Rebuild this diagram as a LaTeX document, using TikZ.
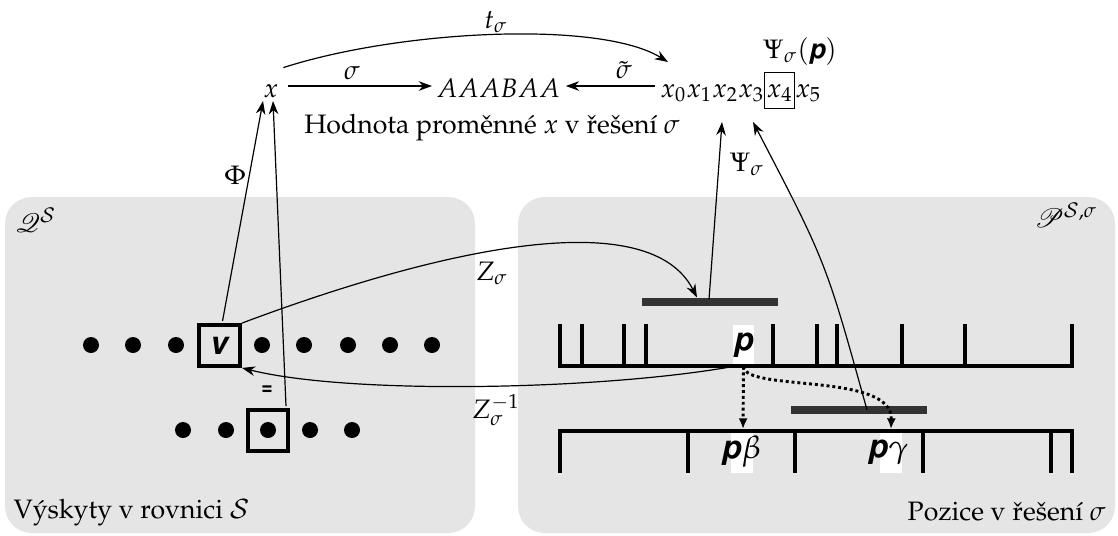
\documentclass[tikz,border=0pt]{standalone}
\usepackage[T1]{fontenc}
\usepackage{mathpazo}
\usepackage{helvet}
\usepackage{mathrsfs}
\usetikzlibrary{arrows.meta,calc}
\newcommand{\bsfi}[1]{\textsf{\bfseries\itshape #1}}
\setlength{\fboxsep}{0.6pt}
\setlength{\fboxrule}{0.4pt}
\begin{document}
\begin{tikzpicture}[x=0.375pt,y=-0.375pt,
  arr/.style={-{Stealth[length=5pt,width=3.6pt]},line width=0.45pt},
  dotarr/.style={-{Latex[length=4pt,width=3.4pt]},line width=1.1pt,dash pattern=on 1.1pt off 1.1pt},
  panel/.style={fill=black!10,rounded corners=10pt},
  dotn/.style={circle,fill=black,inner sep=0pt,minimum size=6pt},
  sqbox/.style={draw,line width=1.5pt,minimum size=15.3pt,inner sep=0pt},
  barnode/.style={fill=black!80,minimum width=51pt,minimum height=3pt,inner sep=0pt},
  ruler/.style={line width=1.5pt,line join=miter},
  lbl/.style={inner sep=0pt}
]
\useasboundingbox (0,0) rectangle (1118,535);
% panels
\fill[panel] (5,197) rectangle (475,533);
\fill[panel] (518,197) rectangle (1115,533);

% top row
\node[lbl,anchor=base] (xv) at (271,97) {$x$};
\node[lbl,anchor=base west] (aaa) at (436,97) {$AAABAA$};
\node[lbl,anchor=base west] (xs) at (660,97) {$x_0x_1x_2x_3$\fbox{\strut$x_4$}$x_5$};
\node[lbl] (psip) at (800,52) {$\Psi_\sigma(\textsf{\bfseries\itshape p})$};
\node[lbl] (tlab) at (496,22) {$t_\sigma$};
\node[lbl] (slab) at (352,73) {$\sigma$};
\node[lbl] (stlab) at (624,70) {$\tilde\sigma$};
\node[lbl,anchor=base] (hod) at (492,133) {Hodnota prom\v{e}nn\'e $x$ v \v{r}e\v{s}en\'i $\sigma$};
\node[lbl] (philab) at (235,175) {$\Phi$};
\node[lbl] (psilab) at (747,164) {$\Psi_\sigma$};
\node[lbl] (zlab) at (492,273) {$Z_\sigma$};
\node[lbl] (zilab) at (496,410) {$Z_\sigma^{-1}$};

% panel labels
\node[lbl] (qlab) at (36,220) {$\mathscr{Q}^{\mathcal{S}}$};
\node[lbl] (plab) at (1066,215) {$\mathscr{P}^{\mathcal{S},\sigma}$};
\node[lbl,anchor=base west] (vysk) at (13,518) {V\'yskyty v rovnici $\mathcal{S}$};
\node[lbl,anchor=base east] (poz) at (1106,520) {Pozice v \v{r}e\v{s}en\'i $\sigma$};

% left panel: occurrences
\foreach \px [count=\k] in {91,133,176,262,304,348,390,432}
  \node[dotn] (r\k) at (\px,345) {};
\node[sqbox] (v) at (219.5,345.5) {\large\bsfi{v}};
\foreach \px [count=\k] in {183,226,268,310,352}
  \node[dotn] (s\k) at (\px,430) {};
\node[sqbox] (eq) at (268,430.5) {};
\node[lbl] (eqsign) at (267,390) {\scriptsize\textsf{\bfseries =}};

% right panel: positions
\node[barnode] (bar1) at (710,302) {};
\node[barnode] (bar2) at (859,410) {};
\node[fill=white,minimum width=7.9pt,minimum height=15.4pt,inner sep=0pt] (p) at (743.5,345.5) {\large\bsfi{p}};
\fill[white] (731,433) rectangle (753,473);
\fill[white] (880,433) rectangle (902,473);
\draw[ruler] (560,324) -- (560,366) -- (1072,366) -- (1072,324);
\foreach \tx in {582,624,646,773,817,837,902,965}
  \draw[ruler] (\tx,324) -- (\tx,366);
\draw[ruler] (560,473) -- (560,431) -- (1072,431) -- (1072,473);
\foreach \tx in {688,795,923,1051}
  \draw[ruler] (\tx,431) -- (\tx,473);
\node[lbl] (pb) at (741,452) {\large\bsfi{p}$\beta$};
\node[lbl] (pg) at (888,452) {\large\bsfi{p}$\gamma$};
\coordinate (r2b) at (743,429);
\coordinate (r2g) at (891,429);

% connectors
\draw[arr] ($(xv.base east)+(9.5,-11)$) -- ($(aaa.base west)+(-4,-11)$);
\draw[arr] ($(xs.base west)+(-5,-11)$) -- ($(aaa.base east)+(5,-11)$);
\draw[arr] ($(xv.north east)+(4.5,-16)$) .. controls (400,30) and (600,20) .. ($(xs.base west)+(8,-35)$);
\draw[arr] ($(v.north)+(3,-2)$) -- ($(xv.base)+(-8,4)$);
\draw[arr] ($(eq.north)+(18,-2)$) -- ($(xv.base)+(2,4)$);
\draw[arr] (v.north east) .. controls (450,245) and (650,205) .. ($(bar1.north)+(-13,0)$);
\draw[arr] ($(bar1.north)+(-1,2)$) -- ($(xs.base west)+(62,25)$);
\draw[arr] ($(bar2.center)+(8,0)$) .. controls (826,262) .. ($(xs.base west)+(93,25)$);
\draw[arr] (p.south west) .. controls (600,390) and (350,395) .. (v.south east);
\draw[dotarr] (p.south) -- (r2b);
\draw[dotarr] (p.south) .. controls (745,392) and (893,372) .. (r2g);
\end{tikzpicture}
\end{document}
